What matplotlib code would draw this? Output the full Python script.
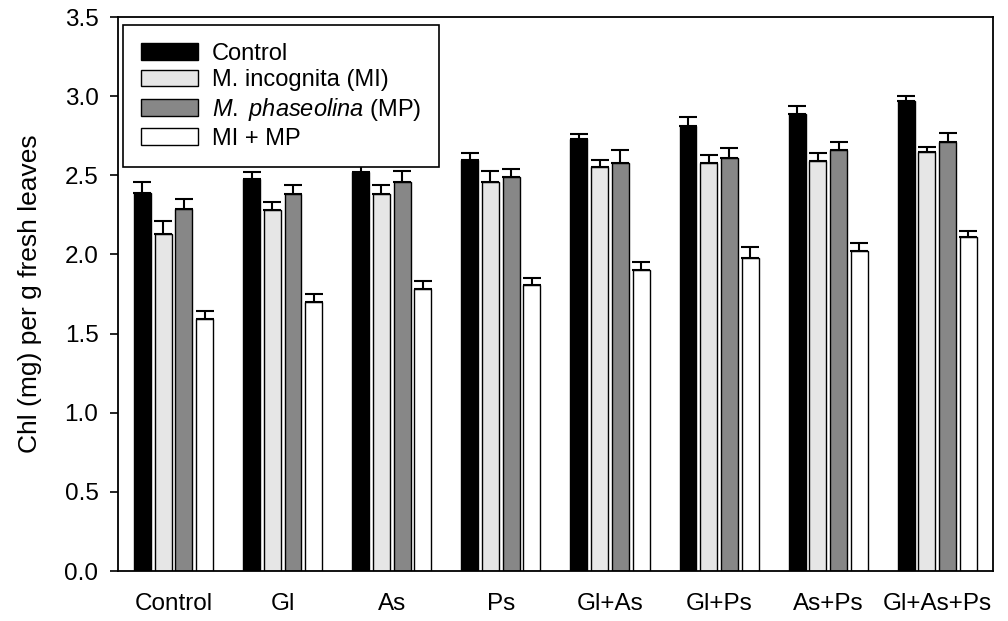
import numpy as np
import matplotlib
matplotlib.use("Agg")
from matplotlib import pyplot as plt

plt.rcParams['font.family'] = ['Liberation Sans', 'DejaVu Sans']
plt.rcParams['mathtext.fontset'] = 'custom'
plt.rcParams['mathtext.it'] = 'Liberation Sans:italic'
plt.rcParams['mathtext.rm'] = 'Liberation Sans'

# treatments on the x axis
treatments = ['Control', 'Gl', 'As', 'Ps', 'Gl+As', 'Gl+Ps', 'As+Ps', 'Gl+As+Ps']

# chlorophyll content, mean and standard error
control = [2.39, 2.48, 2.52, 2.60, 2.73, 2.81, 2.89, 2.97]
control_se = [0.07, 0.04, 0.05, 0.04, 0.03, 0.06, 0.05, 0.03]
mi = [2.13, 2.28, 2.38, 2.46, 2.55, 2.58, 2.59, 2.65]
mi_se = [0.08, 0.05, 0.06, 0.07, 0.05, 0.05, 0.05, 0.03]
mp = [2.29, 2.38, 2.46, 2.49, 2.58, 2.61, 2.66, 2.71]
mp_se = [0.06, 0.06, 0.07, 0.05, 0.08, 0.06, 0.05, 0.06]
mimp = [1.59, 1.70, 1.78, 1.81, 1.90, 1.98, 2.02, 2.11]
mimp_se = [0.05, 0.05, 0.05, 0.04, 0.05, 0.07, 0.05, 0.04]

series = [control, mi, mp, mimp]
errors = [control_se, mi_se, mp_se, mimp_se]
names = ['Control', 'M. incognita (MI)', r'$\mathit{M.\ phaseolina}$ (MP)', 'MI + MP']
colors = ['#000000', '#e6e6e6', '#878787', '#ffffff']

fig = plt.figure(figsize=(10.08, 6.21), dpi=100)
ax = fig.add_axes([0.117, 0.0805, 0.868, 0.892])

x = np.arange(len(treatments))
step = 0.19
width = 0.155
for i, (vals, se, name, c) in enumerate(zip(series, errors, names, colors)):
    pos = x + (i - 1.5) * step
    ax.bar(pos, vals, width, color=c, edgecolor='black', linewidth=1.0,
           label=name, zorder=2)
    ax.errorbar(pos, vals, yerr=[np.zeros(len(se)), se], fmt='none',
                ecolor='black', elinewidth=1.5, capsize=6.5, capthick=1.5,
                zorder=3)

ax.set_xlim(-0.51, 7.51)
ax.set_ylim(0, 3.5)
ax.set_yticks(np.arange(0, 3.51, 0.5))
ax.set_yticklabels(['%.1f' % v for v in np.arange(0, 3.51, 0.5)])
ax.set_xticks(x)
ax.set_xticklabels(treatments)
ax.set_xticks(x[1::2], minor=True)
ax.tick_params(axis='x', which='major', length=0, pad=16, labelsize=17.5)
ax.tick_params(axis='x', which='minor', length=6, width=1.2, direction='out')
ax.tick_params(axis='y', length=6, width=1.2, direction='out', pad=8, labelsize=17.5)
for s in ax.spines.values():
    s.set_linewidth(1.3)

ax.set_ylabel('Chl (mg) per g fresh leaves', fontsize=19, labelpad=16)

leg = ax.legend(loc='upper left', bbox_to_anchor=(0.006, 0.986),
                borderaxespad=0, fontsize=17, frameon=True, fancybox=False,
                edgecolor='black', framealpha=1, handlelength=2.4,
                handleheight=0.7, handletextpad=0.6, labelspacing=0.2,
                borderpad=0.75)
leg.get_frame().set_linewidth(1.2)
leg.set_zorder(5)

plt.savefig('out.png', dpi=100)
